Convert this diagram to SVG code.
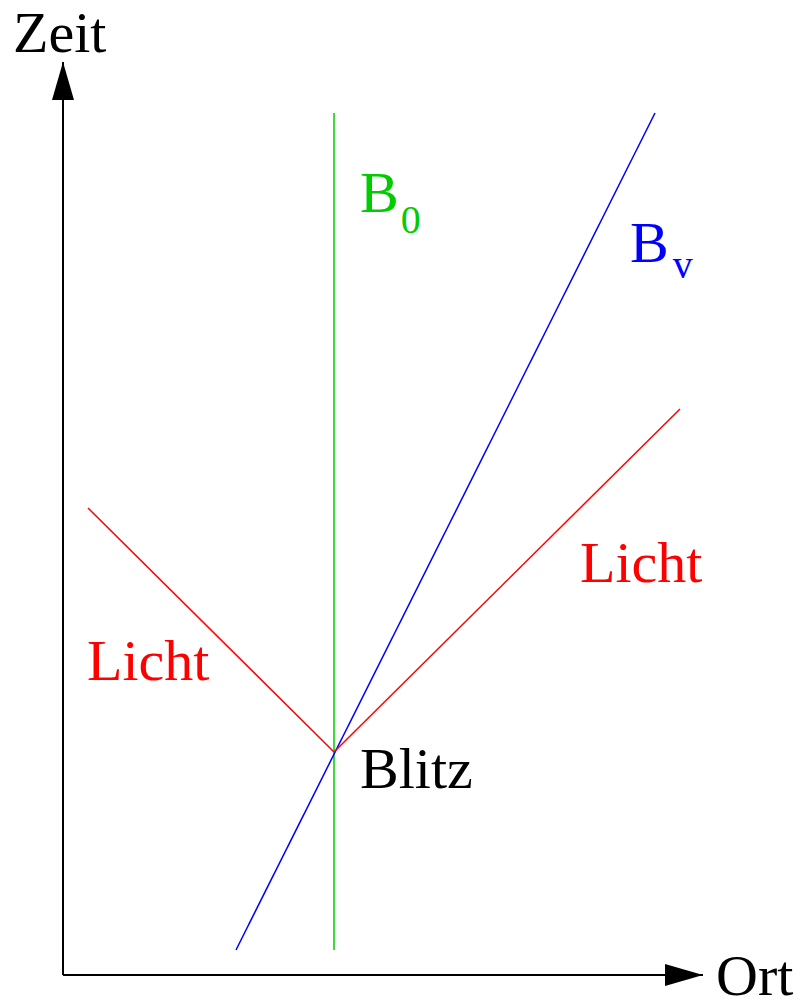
<svg xmlns="http://www.w3.org/2000/svg" width="807" height="1005" viewBox="0 0 807 1005">
<style>
text{font-family:"Liberation Serif","Times New Roman",serif;font-size:58px}
.ax{stroke:#000;stroke-width:2;fill:none}
.ln{stroke-width:1.5;fill:none}
</style>
<defs>
<marker id="ah" markerWidth="40" markerHeight="24" refX="38" refY="12" orient="auto" markerUnits="userSpaceOnUse">
<path d="M0,1 L38,12 L0,23 Z" fill="#000"/>
</marker>
</defs>
<rect width="807" height="1005" fill="#fff"/>
<g id="connectors">
<path class="ax" d="M63,975 L63,62" marker-end="url(#ah)"/>
<path class="ax" d="M63,975 L703,975" marker-end="url(#ah)"/>
<line class="ln" x1="334" y1="113" x2="334" y2="950" stroke="#00cc00"/>
<line class="ln" x1="236" y1="950" x2="655" y2="113" stroke="#0000ff"/>
<line class="ln" x1="88" y1="508" x2="334" y2="752" stroke="#ff0000"/>
<line class="ln" x1="334" y1="752" x2="680" y2="409" stroke="#ff0000"/>
</g>
<g id="zeit"><text x="13" y="52">Zeit</text></g>
<g id="ort"><text x="716" y="995">Ort</text></g>
<g id="b0"><text x="360" y="212" fill="#00cc00">B<tspan font-size="40" dx="2" dy="21">0</tspan></text></g>
<g id="bv"><text x="630" y="262" fill="#0000ff">B<tspan font-size="40" dx="4" dy="16">v</tspan></text></g>
<g id="licht1"><text x="87" y="680" fill="#ff0000">Licht</text></g>
<g id="licht2"><text x="580" y="582" fill="#ff0000">Licht</text></g>
<g id="blitz"><text x="360" y="788">Blitz</text></g>
</svg>
